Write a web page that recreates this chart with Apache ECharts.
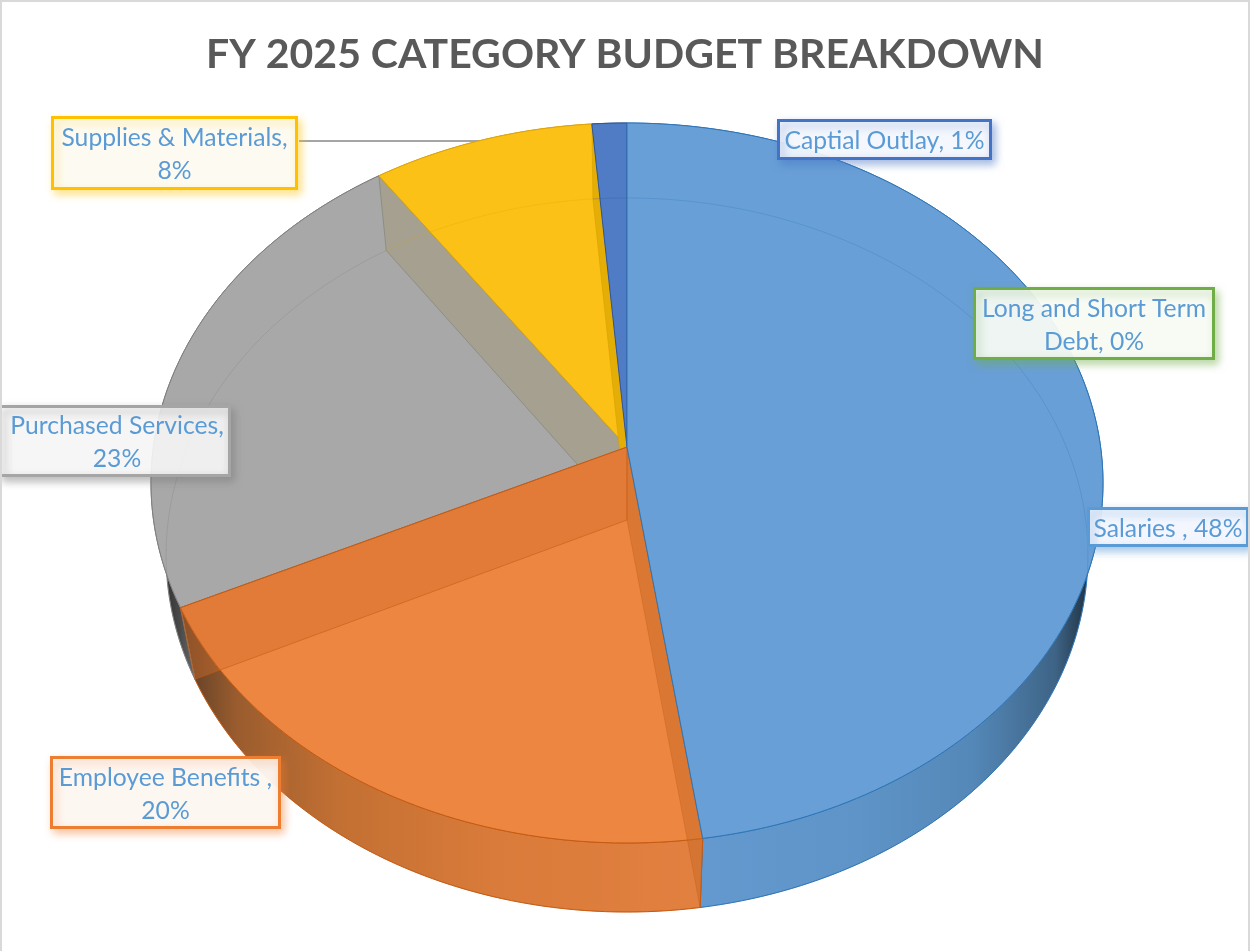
<!DOCTYPE html>
<html>
<head>
<meta charset="utf-8">
<style>html,body{margin:0;padding:0;background:#fff}#chart{width:1250px;height:951px}</style>
<script src="https://cdn.jsdelivr.net/npm/echarts@6/dist/echarts.min.js"></script>
</head>
<body>
<div id="chart"></div>
<script>
// ---- data ----
const categories = ['Salaries ', 'Employee Benefits ', 'Purchased Services', 'Supplies & Materials', 'Captial Outlay', 'Long and Short Term Debt'];
const shares = [47.7, 20.2, 22.5, 8.3, 1.3, 0];
const labelTexts = ['Salaries , 48%', 'Employee Benefits ,\n20%', 'Purchased Services,\n23%', 'Supplies & Materials,\n8%', 'Captial Outlay, 1%', 'Long and Short Term\nDebt, 0%'];
const titleText = 'FY 2025 CATEGORY BUDGET BREAKDOWN';

// ---- layout / style ----
const topDisc = {cx: 627, cy: 447, a: 473.6, b: 356.4, p: 0.1};
const baseDisc = {cx: 627, cy: 520, a: 458.7, b: 353.6, p: 0.098};
const faceColors = ['#689FD6', '#EC8640', '#A8A8A8', '#FBC117', '#4F7CC4', '#70AD47'];
const edgeColors = ['#2E75B6', '#C55A11', '#7F7F7F', '#DDA50C', '#2F5597', '#548235'];
const paintRank = [12, 9, 3, 5, 7, 2];
const borderColors = ['#5B9BD5', '#ED7D31', '#A5A5A5', '#FFC000', '#4472C4', '#70AD47'];
const shadowColors = ['rgba(91,155,213,0.55)', 'rgba(237,125,49,0.45)', 'rgba(120,120,120,0.55)', 'rgba(255,192,0,0.45)', 'rgba(68,114,196,0.5)', 'rgba(112,173,71,0.5)'];
const labelFills = ['rgba(248,250,255,0.92)', 'rgba(253,250,247,0.94)', 'rgba(255,255,255,0.85)', 'rgba(253,252,247,0.95)', 'rgba(252,253,255,0.9)', 'rgba(253,254,252,0.9)'];
const labelBoxes = [[1087, 507, 162, 40], [50, 756, 231, 73], [-1, 405, 232, 72], [51, 116, 247, 74], [777, 119, 215, 41], [973, 287, 242, 73]];
const wallStops = [
  [1090, 700, [[0, '#1F3040'], [0.09, '#3E6486'], [0.3, '#5488B8'], [0.6, '#5F94C8'], [1, '#6399CE']]],
  [185, 700, [[0, '#5E4028'], [0.1, '#9A5C2E'], [0.3, '#C37033'], [0.6, '#D97B3A'], [1, '#E28040']]],
  [158, 195, [[0, '#262626'], [0.6, '#4A4A4A'], [1, '#6A6A6A']]]
];

const LinearGradient = echarts.graphic.LinearGradient;
function project(disc, pct) {
  const t = pct / 100 * 2 * Math.PI;
  const u = Math.sin(t), v = -Math.cos(t), w = 1 - disc.p * v;
  return [disc.cx + disc.a * u / w, disc.cy + disc.b * v / w];
}
function arc(disc, from, to) {
  const n = Math.max(2, Math.ceil(Math.abs(to - from) * 3));
  const pts = [];
  for (let i = 0; i <= n; i++) pts.push(project(disc, from + (to - from) * i / n));
  return pts;
}
function apex(disc) { return [disc.cx, disc.cy]; }

function renderSlice(params, api) {
  const i = params.dataIndex;
  let from = 0;
  for (let k = 0; k < i; k++) from += shares[k];
  const to = from + api.value(1);
  const kids = [];
  const rank = paintRank[i];
  if (to > from) {
    const topArc = arc(topDisc, from, to);
    const baseArc = arc(baseDisc, from, to);
    // outer wall
    let wallFill = faceColors[i];
    if (wallStops[i]) {
      const g = wallStops[i];
      wallFill = new LinearGradient(g[0], 0, g[1], 0, g[2].map(s => ({offset: s[0], color: s[1]})), true);
    }
    kids.push({type: 'polygon', z2: 1, shape: {points: topArc.concat(baseArc.slice().reverse())},
      style: {fill: wallFill, stroke: edgeColors[i], lineWidth: 1, opacity: 1}});
    // base rim seen through the translucent top
    kids.push({type: 'polyline', z2: 30, shape: {points: baseArc},
      style: {fill: null, stroke: edgeColors[i], lineWidth: 1, opacity: 0.28}});
    // top face
    kids.push({type: 'polygon', z2: rank, shape: {points: [apex(topDisc)].concat(topArc)},
      style: {fill: faceColors[i], stroke: edgeColors[i], lineWidth: 1}});
    // inner radial walls seen through the top
    const endQuad = [apex(topDisc), project(topDisc, to), project(baseDisc, to), apex(baseDisc)];
    const startQuad = [apex(topDisc), project(topDisc, from), project(baseDisc, from), apex(baseDisc)];
    if (i === 1) {
      kids.push({type: 'polygon', z2: rank + 1, shape: {points: endQuad},
        style: {fill: 'rgba(209,109,44,0.42)', stroke: 'rgba(197,90,17,0.55)', lineWidth: 1}});
      kids.push({type: 'polygon', z2: rank + 1, shape: {points: startQuad},
        style: {fill: 'rgba(200,106,38,0.5)', stroke: 'rgba(197,90,17,0.35)', lineWidth: 1}});
    }
    if (i === 2) {
      kids.push({type: 'polygon', z2: rank + 1, shape: {points: endQuad},
        style: {fill: '#A5A08F', stroke: 'rgba(120,120,110,0.5)', lineWidth: 1}});
    }
    if (i === 3) {
      kids.push({type: 'polygon', z2: rank + 1, shape: {points: endQuad},
        style: {fill: '#E5AE06', stroke: 'rgba(210,160,0,0.5)', lineWidth: 1}});
    }
  }
  // data label
  const b = labelBoxes[i];
  kids.push({type: 'rect', z2: 40, shape: {x: b[0] + 1.5, y: b[1] + 1.5, width: b[2] - 3, height: b[3] - 3},
    style: {fill: labelFills[i], stroke: borderColors[i], lineWidth: 3,
      shadowBlur: 8, shadowOffsetX: 3, shadowOffsetY: 4, shadowColor: shadowColors[i]}});
  kids.push({type: 'text', z2: 41, x: (Math.max(b[0], 3) + b[0] + b[2]) / 2, y: b[1] + b[3] / 2 + 2,
    style: {text: labelTexts[i], align: 'center', verticalAlign: 'middle', fill: '#5B9BD5',
      font: '24.7px Lato', lineHeight: 33}});
  return {type: 'group', children: kids};
}

const chart = echarts.init(document.getElementById('chart'));
chart.setOption({
  animation: false,
  backgroundColor: '#ffffff',
  title: {text: titleText, left: 'center', top: 29,
    textStyle: {fontFamily: 'Lato', fontWeight: 'bold', fontSize: 41, color: '#595959'}},
  graphic: [
    {type: 'rect', silent: true, z: 20, shape: {x: 1, y: 1, width: 1248, height: 960},
      style: {fill: null, stroke: '#D9D9D9', lineWidth: 2}},
    {type: 'line', silent: true, z: 0, shape: {x1: 299, y1: 141, x2: 490, y2: 141},
      style: {stroke: '#A5A5A5', lineWidth: 2}}
  ],
  series: [{
    type: 'custom',
    name: 'FY 2025',
    coordinateSystem: 'none',
    z: 2,
    silent: true,
    clip: false,
    renderItem: renderSlice,
    data: categories.map((c, i) => [c, shares[i]]),
    encode: {itemName: 0, value: 1}
  }]
});
</script>
</body>
</html>
